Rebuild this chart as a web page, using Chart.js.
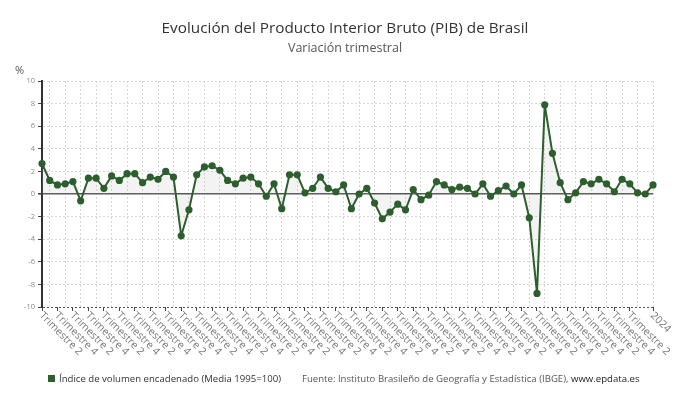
<!DOCTYPE html>
<html><head><meta charset="utf-8">
<script src="https://cdn.jsdelivr.net/npm/chart.js@4.4.1/dist/chart.umd.min.js"></script>
<style>
html,body{margin:0;padding:0;background:#fff;}
#wrap{position:relative;width:690px;height:405px;overflow:hidden;font-family:"Open Sans",sans-serif;}
canvas{position:absolute;left:0;top:0;}
.t{position:absolute;left:0;width:690px;text-align:center;white-space:nowrap;}
#title{top:16px;font-size:15.3px;line-height:22px;color:#333;}
#sub{top:39px;font-size:12.5px;line-height:18px;color:#555;}
#pct{position:absolute;left:15px;top:62px;font-size:11px;color:#555;}
#leg{position:absolute;left:48px;top:371px;font-size:9.6px;line-height:16px;color:#333;white-space:nowrap;}
#leg .sq{display:inline-block;width:7px;height:7px;background:#2d5e2d;margin-right:4px;vertical-align:0px;}
#src{position:absolute;left:302px;top:371px;font-size:9.6px;line-height:16px;color:#555;white-space:nowrap;}
#src b{font-weight:normal;color:#222;}
</style></head>
<body><div id="wrap">
<canvas id="c" width="690" height="405"></canvas>
<div class="t" id="title">Evolución del Producto Interior Bruto (PIB) de Brasil</div>
<div class="t" id="sub">Variación trimestral</div>
<div id="pct">%</div>
<div id="leg"><span class="sq"></span>Índice de volumen encadenado (Media 1995=100)</div>
<div id="src">Fuente: Instituto Brasileño de Geografía y Estadística (IBGE), <b>www.epdata.es</b></div>
</div>
<script>
// Quarterly categories, Q2 2004 .. Q1 2024 (year shown for Q1)
const categories = [
 'Trimestre 2','Trimestre 3','Trimestre 4',
 '2005','Trimestre 2','Trimestre 3','Trimestre 4',
 '2006','Trimestre 2','Trimestre 3','Trimestre 4',
 '2007','Trimestre 2','Trimestre 3','Trimestre 4',
 '2008','Trimestre 2','Trimestre 3','Trimestre 4',
 '2009','Trimestre 2','Trimestre 3','Trimestre 4',
 '2010','Trimestre 2','Trimestre 3','Trimestre 4',
 '2011','Trimestre 2','Trimestre 3','Trimestre 4',
 '2012','Trimestre 2','Trimestre 3','Trimestre 4',
 '2013','Trimestre 2','Trimestre 3','Trimestre 4',
 '2014','Trimestre 2','Trimestre 3','Trimestre 4',
 '2015','Trimestre 2','Trimestre 3','Trimestre 4',
 '2016','Trimestre 2','Trimestre 3','Trimestre 4',
 '2017','Trimestre 2','Trimestre 3','Trimestre 4',
 '2018','Trimestre 2','Trimestre 3','Trimestre 4',
 '2019','Trimestre 2','Trimestre 3','Trimestre 4',
 '2020','Trimestre 2','Trimestre 3','Trimestre 4',
 '2021','Trimestre 2','Trimestre 3','Trimestre 4',
 '2022','Trimestre 2','Trimestre 3','Trimestre 4',
 '2023','Trimestre 2','Trimestre 3','Trimestre 4',
 '2024'
];
const values = [
 2.7,1.2,0.8,0.9,1.1,-0.6,1.4,1.4,0.5,1.6,
 1.2,1.8,1.8,1.0,1.5,1.3,2.0,1.5,-3.7,-1.4,
 1.7,2.4,2.5,2.1,1.2,0.9,1.4,1.5,0.9,-0.2,
 0.9,-1.3,1.7,1.7,0.1,0.5,1.5,0.5,0.2,0.8,
 -1.3,0.0,0.5,-0.8,-2.2,-1.6,-0.9,-1.4,0.4,-0.5,
 -0.1,1.1,0.8,0.4,0.6,0.5,0.0,0.9,-0.2,0.3,
 0.7,0.0,0.8,-2.1,-8.8,7.9,3.6,1.0,-0.5,0.1,
 1.1,0.9,1.3,0.9,0.2,1.3,0.9,0.1,0.0,0.8
];
// indices of categories whose label is shown on the x axis
const shownTicks = [];
for (let i = 0; i <= 76; i += 2) shownTicks.push(i);
shownTicks.push(79);
const yTicks = [-10,-8,-6,-4,-2,0,2,4,6,8,10];

const GREEN = '#2d5e2d';

const xLabelPlugin = {
  id: 'xLabels',
  afterDraw(chart) {
    const xs = chart.scales.x, ctx = chart.ctx;
    const y0 = chart.chartArea.bottom + 7;
    ctx.save();
    ctx.font = '10.5px "Open Sans"';
    ctx.fillStyle = '#7a7a7a';
    ctx.textAlign = 'left';
    ctx.textBaseline = 'middle';
    shownTicks.forEach(i => {
      const x = xs.getPixelForValue(i);
      ctx.save();
      ctx.translate(x - 1, y0);
      ctx.rotate(Math.PI / 4);
      ctx.fillText(categories[i], 0, 0);
      ctx.restore();
    });
    ctx.restore();
  }
};

new Chart(document.getElementById('c'), {
  type: 'line',
  data: {
    labels: categories,
    datasets: [{
      label: 'Índice de volumen encadenado (Media 1995=100)',
      data: values,
      borderColor: GREEN,
      backgroundColor: 'rgba(175,175,175,0.15)',
      fill: 'origin',
      borderWidth: 2,
      tension: 0,
      pointRadius: 3.6,
      pointBackgroundColor: GREEN,
      pointBorderColor: GREEN,
      pointBorderWidth: 0,
      clip: false
    }]
  },
  plugins: [xLabelPlugin],
  options: {
    responsive: false,
    animation: false,
    devicePixelRatio: 1,
    layout: { padding: { top: 81, right: 37, bottom: 0, left: 0 } },
    plugins: { legend: { display: false }, title: { display: false }, tooltip: { enabled: false } },
    scales: {
      x: {
        type: 'category',
        offset: false,
        ticks: { display: false, autoSkip: false },
        grid: {
          color: c => (c.index % 2 === 1 ? '#d6d6d6' : 'rgba(0,0,0,0)'),
          lineWidth: 1,
          drawTicks: true,
          tickLength: 4,
          tickColor: c => (shownTicks.includes(c.index) ? '#444' : 'rgba(0,0,0,0)'),
          tickWidth: 1
        },
        border: { display: false, dash: [2, 2] },
        afterFit: s => { s.height = 98; }
      },
      y: {
        min: -10, max: 10,
        afterBuildTicks: s => { s.ticks = yTicks.map(v => ({ value: v })); },
        ticks: { font: { family: 'Open Sans', size: 7.5 }, color: '#888', padding: 3 },
        grid: {
          color: c => (c.tick.value === 0 ? '#555' : (c.tick.value === -10 ? '#555' : '#d6d6d6')),
          lineWidth: c => (c.tick.value === 0 ? 1.6 : 1),
          tickLength: 4,
          tickColor: '#444'
        },
        border: {
          display: true, color: '#333', width: 2,
          dash: c => (c.tick && c.tick.value === 0 ? [] : [2, 2])
        },
        afterFit: s => { s.width = 42; }
      }
    }
  }
});
</script>
</body></html>
